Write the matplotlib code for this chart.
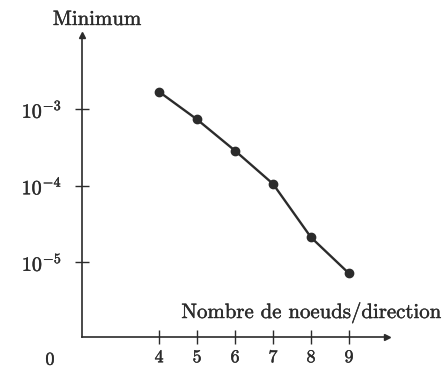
import numpy as np
import matplotlib
matplotlib.use("Agg")
import matplotlib.pyplot as plt
import matplotlib.patheffects as pe

plt.rcParams['font.family'] = 'serif'
plt.rcParams['font.serif'] = ['cmr10', 'DejaVu Serif']
plt.rcParams['mathtext.fontset'] = 'cm'
plt.rcParams['axes.formatter.use_mathtext'] = True

# noeuds par direction vs minimum
nodes = [4, 5, 6, 7, 8, 9]
minimum = [1.68e-3, 7.3e-4, 2.85e-4, 1.05e-4, 2.1e-5, 7.1e-6]
yticks = [1e-3, 1e-4, 1e-5]
ytick_labels = [r'$10^{-3}$', r'$10^{-4}$', r'$10^{-5}$']

ink = '#2b2b2b'
bold = [pe.withStroke(linewidth=0.3, foreground=ink)]

fig = plt.figure(figsize=(4.43, 3.68), dpi=100)
ax = fig.add_axes([0.185, 0.0842, 0.6885, 0.8207])

ax.plot(nodes, minimum, '-o', color=ink, lw=1.7, markersize=6)
ax.set_yscale('log')
ax.set_xlim(1.97, 10)
ax.set_ylim(10**-5.98, 10**-2.033)

for s in ['top', 'right']:
    ax.spines[s].set_visible(False)
for s in ['left', 'bottom']:
    ax.spines[s].set_color(ink)
    ax.spines[s].set_linewidth(1.2)

# arrows at the end of the axes
ax.plot(1, 0, '>', color=ink, markersize=5, transform=ax.transAxes, clip_on=False)
ax.plot(0, 1, '^', color=ink, markersize=5, transform=ax.transAxes, clip_on=False)

ax.set_xticks(nodes)
ax.set_xticklabels([str(n) for n in nodes])
ax.set_yticks(yticks)
ax.set_yticklabels(ytick_labels)
ax.minorticks_off()
ax.tick_params(axis='both', direction='inout', length=10.5, width=1.0, color=ink,
               labelcolor=ink)
ax.tick_params(axis='x', pad=4, labelsize=13)
ax.tick_params(axis='y', pad=9, labelsize=14.5)
for lab in ax.get_xticklabels() + ax.get_yticklabels():
    lab.set_path_effects(bold)

fig.text(97 / 443, 1 - 20 / 368, 'Minimum', ha='center', va='center', fontsize=15,
         color=ink, path_effects=bold)
fig.text(442 / 443, 1 - 313 / 368, 'Nombre de noeuds/direction', ha='right', va='center',
         fontsize=15, color=ink, path_effects=bold)
fig.text(50 / 443, 1 - 360 / 368, '0', ha='center', va='center', fontsize=13,
         color=ink, path_effects=bold)

fig.savefig('out.png', dpi=100, facecolor='white')
